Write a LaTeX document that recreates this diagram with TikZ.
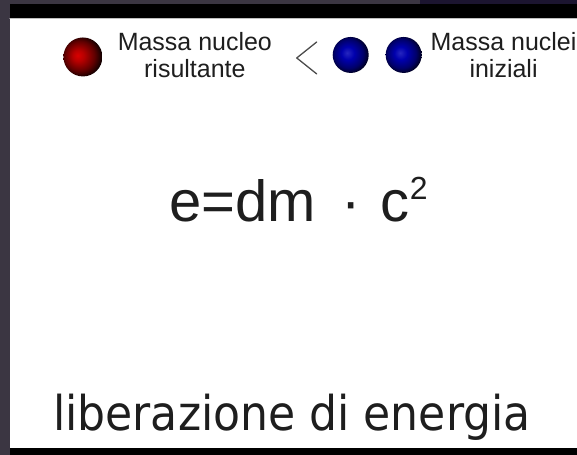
\documentclass[tikz,border=0pt]{standalone}
\usepackage{fontspec}
\setmainfont{Liberation Sans}
\newfontfamily\energiafont[FakeStretch=0.92]{DejaVu Sans}
\definecolor{sfondo}{HTML}{3B3642}
\definecolor{cielo}{HTML}{1C1530}
\definecolor{testo}{HTML}{1E1E1E}
\pgfdeclareradialshading{sferarossa}{\pgfpoint{-7bp}{2bp}}{%
  color(0bp)=(red!85!black); color(7bp)=(red!72!black);
  color(19bp)=(red!38!black); color(29bp)=(black); color(50bp)=(black)}
\pgfdeclareradialshading{sferablu}{\pgfpoint{-5bp}{3bp}}{%
  color(0bp)=(blue!80!white!75!black); color(9bp)=(blue!68!black);
  color(20bp)=(blue!42!black); color(30bp)=(black); color(50bp)=(black)}
\tikzset{
  sfera/.style={circle, minimum size=#1, inner sep=0pt},
  etichetta/.style={align=center, inner sep=0pt, text=testo,
    font=\fontsize{25}{27}\selectfont},
}
\begin{document}
\begin{tikzpicture}[x=1pt,y=-1pt, line join=round, line cap=round]
    % cornice
    \fill[sfondo] (0,0) rectangle (577,455);
    \fill[cielo] (420,0) rectangle (577,4);
    \fill[black] (10,4) rectangle (577,18);
    \fill[white] (10,18) rectangle (577,448);
    \fill[black] (10,448) rectangle (577,455);
    \draw[gray!50, line width=1pt] (10,18.5) -- (577,18.5);
    \useasboundingbox (0,0) rectangle (577,455);
    % nuclei
    \node[sfera=39pt, shading=sferarossa] (risultante) at (83,57) {};
    \node[etichetta] (lrisultante) at (195,55) {Massa nucleo\\risultante};
    \draw[gray!60!black, line width=1.3pt] (317,42) -- (297,58) -- (317,74);
    \node[sfera=36pt, shading=sferablu] (iniziale1) at (351,55) {};
    \node[sfera=36pt, shading=sferablu] (iniziale2) at (404,55) {};
    \node[etichetta] (liniziali) at (504,55) {Massa nuclei\\iniziali};
    % formula
    \node[anchor=base west, inner sep=0pt, text=testo, font=\fontsize{58}{58}\selectfont]
        (formula) at (169,222)
        {e=dm\hspace{26pt}·\hspace{20pt}c\raisebox{22pt}{\fontsize{32}{32}\selectfont 2}};
    \node[anchor=base west, inner sep=0pt, text=testo, font=\energiafont\fontsize{48}{48}\selectfont]
        (energia) at (53,431) {liberazione di energia};
\end{tikzpicture}
\end{document}
